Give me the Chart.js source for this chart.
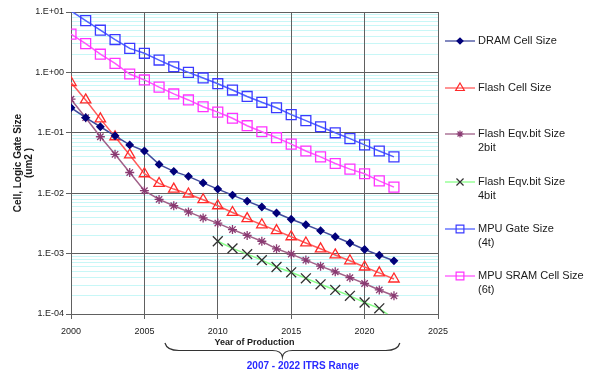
<!DOCTYPE html>
<html>
<head>
<meta charset="utf-8">
<script src="https://cdn.jsdelivr.net/npm/chart.js@4/dist/chart.umd.min.js"></script>
<style>
  html, body { margin: 0; padding: 0; background: #fff; }
  #wrap { width: 601px; height: 370px; position: relative; }
</style>
</head>
<body>
<div id="wrap"><canvas id="itrs"></canvas></div>
<script>
// years of production
var years = [2000, 2001, 2002, 2003, 2004, 2005, 2006, 2007, 2008, 2009, 2010, 2011,
             2012, 2013, 2014, 2015, 2016, 2017, 2018, 2019, 2020, 2021, 2022];

var dramCell = [0.26, 0.178, 0.126, 0.089, 0.063, 0.050, 0.030, 0.023, 0.019, 0.0148, 0.0117, 0.0093,
                0.0074, 0.0059, 0.0047, 0.0037, 0.0030, 0.0024, 0.0019, 0.0015, 0.00117, 0.00094, 0.00076];
var flashCell = [0.68, 0.35, 0.17, 0.086, 0.043, 0.021, 0.0145, 0.0117, 0.0097, 0.0078, 0.0062, 0.0048,
                 0.0038, 0.0030, 0.0024, 0.0019, 0.0015, 0.0012, 0.00095, 0.00076, 0.0006, 0.00048, 0.00038];
var flash2bit = [0.36, 0.178, 0.086, 0.044, 0.022, 0.011, 0.0079, 0.0062, 0.0049, 0.0039, 0.0032, 0.0025,
                 0.0020, 0.0016, 0.0012, 0.00098, 0.00078, 0.00062, 0.0005, 0.0004, 0.00032, 0.00025, 0.0002];
var flash4bit = [null, null, null, null, null, null, null, null, null, null, 0.0016, 0.00122,
                 0.00098, 0.00078, 0.0006, 0.00049, 0.00039, 0.00031, 0.00025, 0.0002, 0.000155, 0.000124, 0.000083];
var mpuGate = [10.4, 7.2, 5.0, 3.5, 2.5, 2.07, 1.6, 1.24, 1.0, 0.81, 0.65, 0.51,
               0.40, 0.32, 0.26, 0.20, 0.159, 0.126, 0.10, 0.080, 0.063, 0.050, 0.040];
var mpuSram = [4.3, 3.0, 2.0, 1.41, 0.94, 0.75, 0.57, 0.44, 0.35, 0.27, 0.22, 0.174,
               0.131, 0.104, 0.083, 0.065, 0.050, 0.040, 0.031, 0.025, 0.021, 0.016, 0.0126];

var seriesNames = ['DRAM Cell Size', 'Flash Cell Size', 'Flash Eqv.bit Size\n2bit',
                   'Flash Eqv.bit Size\n4bit', 'MPU Gate Size\n(4t)', 'MPU SRAM Cell Size\n(6t)'];

var xTickValues = [2000, 2005, 2010, 2015, 2020, 2025];
var yDecades = [0.0001, 0.001, 0.01, 0.1, 1, 10];
var yTickLabels = ['1.E-04', '1.E-03', '1.E-02', '1.E-01', '1.E+00', '1.E+01'];

var FONT = "'Liberation Sans', Arial, sans-serif";

function pts(arr) {
  return years.map(function (yr, i) { return { x: yr, y: arr[i] }; });
}
function decadeIndex(v) {
  for (var i = 0; i < yDecades.length; i++) {
    if (Math.abs(v - yDecades[i]) < yDecades[i] * 1e-6) return i;
  }
  return -1;
}
// markers outside the plot range are not shown
function radiusIn(r) {
  return function (ctx) {
    var v = ctx.raw && ctx.raw.y;
    return (v > 10 || v < 0.0001) ? 0 : r;
  };
}

var styles = [
  { data: dramCell, line: '#3f4a9c', mark: '#00007a', fill: '#00007a', style: 'rectRot', r: 3.5, lr: 3 },
  { data: flashCell, line: '#ff5a5a', mark: '#ff2a2a', fill: 'rgba(255,255,255,0)', style: 'triangle', r: 6, lr: 5 },
  { data: flash2bit, line: '#a06088', mark: '#8a3a72', fill: 'rgba(255,255,255,0)', style: 'star', r: 4.5, lr: 3.5 },
  { data: flash4bit, line: '#88ff88', mark: '#303030', fill: 'rgba(255,255,255,0)', style: 'crossRot', r: 7, lr: 5 },
  { data: mpuGate, line: '#5060ff', mark: '#3a3aff', fill: 'rgba(255,255,255,0)', style: 'rect', r: 7, lr: 5.5 },
  { data: mpuSram, line: '#ff55ff', mark: '#ff33ff', fill: 'rgba(255,255,255,0)', style: 'rect', r: 7, lr: 5.5 }
];

var datasets = styles.map(function (s, i) {
  return {
    label: seriesNames[i],
    data: pts(s.data),
    borderColor: s.line,
    borderWidth: 1.5,
    pointStyle: s.style,
    pointRadius: radiusIn(s.r),
    pointHoverRadius: radiusIn(s.r),
    pointBorderColor: s.mark,
    pointBackgroundColor: s.fill,
    pointBorderWidth: 1.3,
    tension: 0,
    fill: false
  };
});

// legend on the right, line sample with marker and multi-line text
var sideLegend = {
  id: 'sideLegend',
  afterDraw: function (chart) {
    var ctx = chart.ctx;
    var rows = [41, 88, 134, 182, 229, 276];
    ctx.save();
    styles.forEach(function (s, i) {
      var y = rows[i];
      ctx.strokeStyle = s.line;
      ctx.lineWidth = 1.3;
      ctx.beginPath();
      ctx.moveTo(445, y);
      ctx.lineTo(475, y);
      ctx.stroke();
      if (Chart.helpers && Chart.helpers.drawPoint) {
        ctx.strokeStyle = s.mark;
        ctx.fillStyle = s.fill;
        ctx.lineWidth = 1.2;
        Chart.helpers.drawPoint(ctx, { pointStyle: s.style, radius: s.lr, rotation: 0, borderWidth: 1.2 }, 460, y);
      }
      ctx.fillStyle = '#1a1a1a';
      ctx.font = '11px ' + FONT;
      ctx.textAlign = 'left';
      ctx.textBaseline = 'middle';
      seriesNames[i].split('\n').forEach(function (t, k) {
        ctx.fillText(t, 478, y + k * 13.5);
      });
    });
    ctx.restore();
  }
};

// brace under the axis title with the ITRS range note
var rangeBrace = {
  id: 'rangeBrace',
  afterDraw: function (chart) {
    var ctx = chart.ctx;
    var xs = chart.scales.x;
    var x0 = xs.getPixelForValue(2006.4), x1 = xs.getPixelForValue(2022.4);
    var xc = xs.getPixelForValue(2014.4);
    var yTop = 343, yMid = 350.5, yBot = 357;
    ctx.save();
    ctx.strokeStyle = '#333';
    ctx.lineWidth = 1.2;
    ctx.beginPath();
    ctx.moveTo(x0, yTop);
    ctx.quadraticCurveTo(x0 + 2, yMid, x0 + 14, yMid);
    ctx.lineTo(xc - 10, yMid);
    ctx.quadraticCurveTo(xc - 1, yMid, xc, yBot);
    ctx.quadraticCurveTo(xc + 1, yMid, xc + 10, yMid);
    ctx.lineTo(x1 - 14, yMid);
    ctx.quadraticCurveTo(x1 - 2, yMid, x1, yTop);
    ctx.stroke();
    ctx.fillStyle = '#2a2aff';
    ctx.font = 'bold 10px ' + FONT;
    ctx.textAlign = 'center';
    ctx.textBaseline = 'middle';
    ctx.fillText('2007 - 2022 ITRS Range', xs.getPixelForValue(2015.8), 366);
    ctx.restore();
  }
};

new Chart(document.getElementById('itrs'), {
  type: 'line',
  data: { datasets: datasets },
  options: {
    responsive: true,
    maintainAspectRatio: false,
    animation: false,
    layout: { padding: { left: 0, right: 163, top: 12, bottom: 0 } },
    plugins: {
      legend: { display: false },
      tooltip: { enabled: false }
    },
    scales: {
      x: {
        type: 'linear',
        min: 2000,
        max: 2025,
        afterBuildTicks: function (scale) {
          scale.ticks = xTickValues.map(function (v) { return { value: v }; });
        },
        afterFit: function (scale) { scale.height = 56; },
        ticks: {
          color: '#1a1a1a',
          font: { family: FONT, size: 9 },
          padding: 7,
          maxRotation: 0,
          callback: function (v) { return String(v); }
        },
        grid: { color: '#606060', tickColor: '#606060', tickLength: 5, lineWidth: 1, z: -1 },
        border: { color: '#606060', width: 1 },
        title: {
          display: true,
          text: 'Year of Production',
          color: '#1a1a1a',
          font: { family: FONT, size: 9, weight: 'bold' },
          padding: { top: 0, bottom: 22.5 }
        }
      },
      y: {
        type: 'logarithmic',
        min: 0.0001,
        max: 10,
        afterBuildTicks: function (scale) {
          var t = [];
          yDecades.forEach(function (d, i) {
            if (i === yDecades.length - 1) { t.push({ value: d, major: true }); return; }
            for (var m = 1; m <= 9; m++) t.push({ value: m * d, major: m === 1 });
          });
          scale.ticks = t;
        },
        afterFit: function (scale) { scale.width = 71; },
        ticks: {
          autoSkip: false,
          color: '#1a1a1a',
          font: { family: FONT, size: 9 },
          padding: 2,
          callback: function (v) {
            var i = decadeIndex(v);
            return i >= 0 ? yTickLabels[i] : '';
          }
        },
        grid: {
          z: -2,
          lineWidth: 1,
          tickLength: 5,
          color: function (c) {
            return c.tick && decadeIndex(c.tick.value) >= 0 ? '#606060' : '#c8f7f7';
          },
          tickColor: function (c) {
            return c.tick && decadeIndex(c.tick.value) >= 0 ? '#606060' : 'rgba(0,0,0,0)';
          }
        },
        border: { color: '#606060', width: 1 },
        title: {
          display: true,
          text: ['Cell, Logic Gate Size', '(um2 )'],
          color: '#1a1a1a',
          font: { family: FONT, size: 10, weight: 'bold', lineHeight: 1.1 },
          padding: { top: 13, bottom: 0 }
        }
      }
    }
  },
  plugins: [sideLegend, rangeBrace]
});
</script>
</body>
</html>
